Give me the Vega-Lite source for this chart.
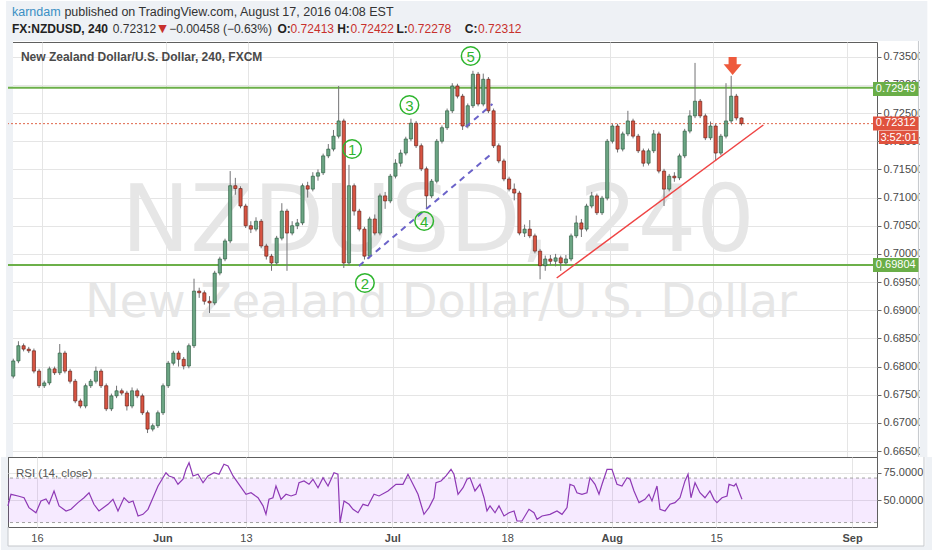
{
"$schema": "https://vega.github.io/schema/vega-lite/v6.json",
"background": "white",
"padding": 0,
"spacing": 0,
"bounds": "flush",
"config": {
 "view": {"stroke": "#5f5f5f", "strokeWidth": 1},
 "axis": {"labelFont": "Liberation Sans", "labelFontSize": 11, "labelColor": "#4a4a4a", "gridColor": "#e5e5e5", "gridWidth": 1, "tickColor": "#666666", "labelFlush": false, "labelOverlap": false, "labelBound": false, "domain": false},
 "text": {"font": "Liberation Sans"}
},
"datasets": {
 "candles": [
{"t":-2.75,"o":0.6783,"h":0.6814,"l":0.6779,"c":0.6810},
{"t":-2.25,"o":0.6810,"h":0.6845,"l":0.6806,"c":0.6837},
{"t":-1.75,"o":0.6837,"h":0.6841,"l":0.6827,"c":0.6831},
{"t":-1.25,"o":0.6831,"h":0.6835,"l":0.6824,"c":0.6828},
{"t":-0.75,"o":0.6828,"h":0.6832,"l":0.6788,"c":0.6792},
{"t":-0.25,"o":0.6792,"h":0.6796,"l":0.6762,"c":0.6766},
{"t":0.25,"o":0.6766,"h":0.6775,"l":0.6762,"c":0.6771},
{"t":0.75,"o":0.6771,"h":0.6800,"l":0.6767,"c":0.6796},
{"t":1.25,"o":0.6796,"h":0.6800,"l":0.6785,"c":0.6789},
{"t":1.75,"o":0.6789,"h":0.6840,"l":0.6785,"c":0.6824},
{"t":2.25,"o":0.6824,"h":0.6828,"l":0.6788,"c":0.6792},
{"t":2.75,"o":0.6792,"h":0.6796,"l":0.6770,"c":0.6774},
{"t":3.25,"o":0.6774,"h":0.6778,"l":0.6735,"c":0.6739},
{"t":3.75,"o":0.6739,"h":0.6743,"l":0.6726,"c":0.6730},
{"t":4.25,"o":0.6730,"h":0.6770,"l":0.6726,"c":0.6766},
{"t":4.75,"o":0.6766,"h":0.6778,"l":0.6762,"c":0.6774},
{"t":5.25,"o":0.6774,"h":0.6800,"l":0.6770,"c":0.6792},
{"t":5.75,"o":0.6792,"h":0.6796,"l":0.6762,"c":0.6766},
{"t":6.25,"o":0.6766,"h":0.6770,"l":0.6721,"c":0.6725},
{"t":6.75,"o":0.6725,"h":0.6752,"l":0.6721,"c":0.6748},
{"t":7.25,"o":0.6748,"h":0.6766,"l":0.6744,"c":0.6757},
{"t":7.75,"o":0.6757,"h":0.6761,"l":0.6749,"c":0.6753},
{"t":8.25,"o":0.6753,"h":0.6757,"l":0.6722,"c":0.6730},
{"t":8.75,"o":0.6730,"h":0.6763,"l":0.6726,"c":0.6757},
{"t":9.25,"o":0.6757,"h":0.6761,"l":0.6744,"c":0.6748},
{"t":9.75,"o":0.6748,"h":0.6752,"l":0.6714,"c":0.6718},
{"t":10.25,"o":0.6718,"h":0.6722,"l":0.6682,"c":0.6689},
{"t":10.75,"o":0.6689,"h":0.6699,"l":0.6685,"c":0.6695},
{"t":11.25,"o":0.6695,"h":0.6722,"l":0.6691,"c":0.6718},
{"t":11.75,"o":0.6718,"h":0.6770,"l":0.6714,"c":0.6766},
{"t":12.25,"o":0.6766,"h":0.6810,"l":0.6762,"c":0.6806},
{"t":12.75,"o":0.6806,"h":0.6828,"l":0.6802,"c":0.6824},
{"t":13.25,"o":0.6824,"h":0.6828,"l":0.6800,"c":0.6813},
{"t":13.75,"o":0.6813,"h":0.6817,"l":0.6795,"c":0.6801},
{"t":14.25,"o":0.6801,"h":0.6841,"l":0.6797,"c":0.6837},
{"t":14.75,"o":0.6837,"h":0.6956,"l":0.6833,"c":0.6934},
{"t":15.25,"o":0.6934,"h":0.6940,"l":0.6922,"c":0.6931},
{"t":15.75,"o":0.6931,"h":0.6935,"l":0.6910,"c":0.6916},
{"t":16.25,"o":0.6916,"h":0.6925,"l":0.6895,"c":0.6913},
{"t":16.75,"o":0.6913,"h":0.6970,"l":0.6909,"c":0.6966},
{"t":17.25,"o":0.6966,"h":0.6995,"l":0.6962,"c":0.6991},
{"t":17.75,"o":0.6991,"h":0.7027,"l":0.6987,"c":0.7023},
{"t":18.25,"o":0.7023,"h":0.7147,"l":0.7019,"c":0.7121},
{"t":18.75,"o":0.7121,"h":0.7135,"l":0.7105,"c":0.7116},
{"t":19.25,"o":0.7116,"h":0.7120,"l":0.7081,"c":0.7085},
{"t":19.75,"o":0.7085,"h":0.7089,"l":0.7046,"c":0.7050},
{"t":20.25,"o":0.7050,"h":0.7058,"l":0.7037,"c":0.7044},
{"t":20.75,"o":0.7044,"h":0.7065,"l":0.7040,"c":0.7058},
{"t":21.25,"o":0.7058,"h":0.7062,"l":0.7010,"c":0.7014},
{"t":21.75,"o":0.7014,"h":0.7018,"l":0.6990,"c":0.6996},
{"t":22.25,"o":0.6996,"h":0.7000,"l":0.6970,"c":0.6984},
{"t":22.75,"o":0.6984,"h":0.7032,"l":0.6980,"c":0.7028},
{"t":23.25,"o":0.7028,"h":0.7090,"l":0.7024,"c":0.7076},
{"t":23.75,"o":0.7076,"h":0.7080,"l":0.6970,"c":0.7037},
{"t":24.25,"o":0.7037,"h":0.7058,"l":0.7033,"c":0.7050},
{"t":24.75,"o":0.7050,"h":0.7062,"l":0.7044,"c":0.7055},
{"t":25.25,"o":0.7055,"h":0.7125,"l":0.7051,"c":0.7121},
{"t":25.75,"o":0.7121,"h":0.7128,"l":0.7100,"c":0.7115},
{"t":26.25,"o":0.7115,"h":0.7145,"l":0.7111,"c":0.7138},
{"t":26.75,"o":0.7138,"h":0.7150,"l":0.7130,"c":0.7144},
{"t":27.25,"o":0.7144,"h":0.7178,"l":0.7140,"c":0.7174},
{"t":27.75,"o":0.7174,"h":0.7195,"l":0.7170,"c":0.7186},
{"t":28.25,"o":0.7186,"h":0.7220,"l":0.7182,"c":0.7209},
{"t":28.75,"o":0.7209,"h":0.7298,"l":0.7205,"c":0.7236},
{"t":29.25,"o":0.7236,"h":0.7240,"l":0.6975,"c":0.6984},
{"t":29.75,"o":0.6984,"h":0.7158,"l":0.6980,"c":0.7121},
{"t":30.25,"o":0.7121,"h":0.7125,"l":0.7068,"c":0.7076},
{"t":30.75,"o":0.7076,"h":0.7080,"l":0.7040,"c":0.7044},
{"t":31.25,"o":0.7044,"h":0.7048,"l":0.6990,"c":0.6996},
{"t":31.75,"o":0.6996,"h":0.7066,"l":0.6992,"c":0.7062},
{"t":32.25,"o":0.7062,"h":0.7070,"l":0.7033,"c":0.7037},
{"t":32.75,"o":0.7037,"h":0.7107,"l":0.7033,"c":0.7103},
{"t":33.25,"o":0.7103,"h":0.7110,"l":0.7080,"c":0.7094},
{"t":33.75,"o":0.7094,"h":0.7142,"l":0.7090,"c":0.7138},
{"t":34.25,"o":0.7138,"h":0.7168,"l":0.7134,"c":0.7161},
{"t":34.75,"o":0.7161,"h":0.7185,"l":0.7155,"c":0.7179},
{"t":35.25,"o":0.7179,"h":0.7208,"l":0.7175,"c":0.7204},
{"t":35.75,"o":0.7204,"h":0.7240,"l":0.7200,"c":0.7232},
{"t":36.25,"o":0.7232,"h":0.7236,"l":0.7188,"c":0.7192},
{"t":36.75,"o":0.7192,"h":0.7196,"l":0.7147,"c":0.7151},
{"t":37.25,"o":0.7151,"h":0.7155,"l":0.7080,"c":0.7103},
{"t":37.75,"o":0.7103,"h":0.7133,"l":0.7099,"c":0.7129},
{"t":38.25,"o":0.7129,"h":0.7204,"l":0.7125,"c":0.7200},
{"t":38.75,"o":0.7200,"h":0.7228,"l":0.7196,"c":0.7224},
{"t":39.25,"o":0.7224,"h":0.7258,"l":0.7220,"c":0.7254},
{"t":39.75,"o":0.7254,"h":0.7303,"l":0.7250,"c":0.7298},
{"t":40.25,"o":0.7298,"h":0.7302,"l":0.7276,"c":0.7280},
{"t":40.75,"o":0.7280,"h":0.7284,"l":0.7220,"c":0.7227},
{"t":41.25,"o":0.7227,"h":0.7267,"l":0.7223,"c":0.7263},
{"t":41.75,"o":0.7263,"h":0.7325,"l":0.7259,"c":0.7319},
{"t":42.25,"o":0.7319,"h":0.7323,"l":0.7262,"c":0.7266},
{"t":42.75,"o":0.7266,"h":0.7320,"l":0.7262,"c":0.7310},
{"t":43.25,"o":0.7310,"h":0.7314,"l":0.7250,"c":0.7254},
{"t":43.75,"o":0.7254,"h":0.7258,"l":0.7188,"c":0.7192},
{"t":44.25,"o":0.7192,"h":0.7196,"l":0.7161,"c":0.7165},
{"t":44.75,"o":0.7165,"h":0.7169,"l":0.7129,"c":0.7133},
{"t":45.25,"o":0.7133,"h":0.7137,"l":0.7111,"c":0.7115},
{"t":45.75,"o":0.7115,"h":0.7125,"l":0.7095,"c":0.7108},
{"t":46.25,"o":0.7108,"h":0.7112,"l":0.7033,"c":0.7037},
{"t":46.75,"o":0.7037,"h":0.7052,"l":0.7030,"c":0.7044},
{"t":47.25,"o":0.7044,"h":0.7060,"l":0.7028,"c":0.7032},
{"t":47.75,"o":0.7032,"h":0.7036,"l":0.7001,"c":0.7005},
{"t":48.25,"o":0.7005,"h":0.7009,"l":0.6955,"c":0.6979},
{"t":48.75,"o":0.6979,"h":0.6997,"l":0.6970,"c":0.6991},
{"t":49.25,"o":0.6991,"h":0.6998,"l":0.6980,"c":0.6987},
{"t":49.75,"o":0.6987,"h":0.7000,"l":0.6978,"c":0.6993},
{"t":50.25,"o":0.6993,"h":0.6997,"l":0.6970,"c":0.6984},
{"t":50.75,"o":0.6984,"h":0.6998,"l":0.6980,"c":0.6991},
{"t":51.25,"o":0.6991,"h":0.7036,"l":0.6987,"c":0.7032},
{"t":51.75,"o":0.7032,"h":0.7068,"l":0.7028,"c":0.7055},
{"t":52.25,"o":0.7055,"h":0.7062,"l":0.7030,"c":0.7044},
{"t":52.75,"o":0.7044,"h":0.7089,"l":0.7040,"c":0.7085},
{"t":53.25,"o":0.7085,"h":0.7110,"l":0.7081,"c":0.7103},
{"t":53.75,"o":0.7103,"h":0.7107,"l":0.7069,"c":0.7073},
{"t":54.25,"o":0.7073,"h":0.7103,"l":0.7069,"c":0.7099},
{"t":54.75,"o":0.7099,"h":0.7204,"l":0.7095,"c":0.7200},
{"t":55.25,"o":0.7200,"h":0.7231,"l":0.7196,"c":0.7227},
{"t":55.75,"o":0.7227,"h":0.7231,"l":0.7180,"c":0.7186},
{"t":56.25,"o":0.7186,"h":0.7217,"l":0.7182,"c":0.7213},
{"t":56.75,"o":0.7213,"h":0.7254,"l":0.7209,"c":0.7236},
{"t":57.25,"o":0.7236,"h":0.7240,"l":0.7205,"c":0.7209},
{"t":57.75,"o":0.7209,"h":0.7213,"l":0.7179,"c":0.7183},
{"t":58.25,"o":0.7183,"h":0.7187,"l":0.7155,"c":0.7161},
{"t":58.75,"o":0.7161,"h":0.7187,"l":0.7157,"c":0.7183},
{"t":59.25,"o":0.7183,"h":0.7220,"l":0.7179,"c":0.7213},
{"t":59.75,"o":0.7213,"h":0.7217,"l":0.7143,"c":0.7147},
{"t":60.25,"o":0.7147,"h":0.7151,"l":0.7085,"c":0.7115},
{"t":60.75,"o":0.7115,"h":0.7142,"l":0.7111,"c":0.7138},
{"t":61.25,"o":0.7138,"h":0.7145,"l":0.7128,"c":0.7135},
{"t":61.75,"o":0.7135,"h":0.7178,"l":0.7131,"c":0.7174},
{"t":62.25,"o":0.7174,"h":0.7222,"l":0.7170,"c":0.7218},
{"t":62.75,"o":0.7218,"h":0.7255,"l":0.7214,"c":0.7245},
{"t":63.25,"o":0.7245,"h":0.7339,"l":0.7241,"c":0.7271},
{"t":63.75,"o":0.7271,"h":0.7275,"l":0.7241,"c":0.7245},
{"t":64.25,"o":0.7245,"h":0.7249,"l":0.7202,"c":0.7206},
{"t":64.75,"o":0.7206,"h":0.7235,"l":0.7202,"c":0.7227},
{"t":65.25,"o":0.7227,"h":0.7231,"l":0.7165,"c":0.7179},
{"t":65.75,"o":0.7179,"h":0.7213,"l":0.7175,"c":0.7209},
{"t":66.25,"o":0.7209,"h":0.7303,"l":0.7205,"c":0.7236},
{"t":66.75,"o":0.7236,"h":0.7316,"l":0.7232,"c":0.7280},
{"t":67.25,"o":0.7280,"h":0.7284,"l":0.7237,"c":0.72413},
{"t":67.75,"o":0.72413,"h":0.72422,"l":0.72278,"c":0.72312}
 ],
 "rsi": [
{"t":-2.78,"p":45},{"t":-2.49,"p":55.4},{"t":-1.82,"p":53.9},{"t":-1.24,"p":52.3},{"t":-0.77,"p":43.4},{"t":-0.10,"p":38.8},{"t":0.38,"p":49.4},{"t":0.86,"p":51.2},{"t":1.15,"p":46.7},{"t":1.63,"p":58.4},{"t":2.11,"p":45},{"t":2.78,"p":40.4},{"t":3.25,"p":42},{"t":3.92,"p":47.9},{"t":4.50,"p":52.3},{"t":4.98,"p":56.8},{"t":5.45,"p":46.4},{"t":5.93,"p":40.4},{"t":6.79,"p":46.4},{"t":7.27,"p":50.9},{"t":7.75,"p":40.4},{"t":8.33,"p":52.3},{"t":8.80,"p":47.9},{"t":9.19,"p":49.4},{"t":9.67,"p":35.9},{"t":10.14,"p":37.4},{"t":10.62,"p":41.9},{"t":11.10,"p":52.3},{"t":11.58,"p":62.9},{"t":11.87,"p":67.4},{"t":12.34,"p":74.8},{"t":12.63,"p":71.9},{"t":13.11,"p":70.3},{"t":13.49,"p":64.4},{"t":13.97,"p":68.9},{"t":14.26,"p":77.9},{"t":14.55,"p":83.8},{"t":14.93,"p":71.9},{"t":15.41,"p":73.4},{"t":15.89,"p":65.8},{"t":16.36,"p":71.9},{"t":16.94,"p":74.8},{"t":17.42,"p":73.4},{"t":17.89,"p":82.4},{"t":18.28,"p":80.8},{"t":18.76,"p":71.9},{"t":19.33,"p":64.4},{"t":20.00,"p":55.4},{"t":20.48,"p":56.8},{"t":21.15,"p":52.3},{"t":21.63,"p":45},{"t":21.91,"p":37.4},{"t":22.20,"p":50.9},{"t":22.58,"p":52.3},{"t":22.87,"p":62.9},{"t":23.35,"p":50.9},{"t":23.83,"p":55.4},{"t":24.31,"p":53.9},{"t":24.78,"p":55.4},{"t":25.07,"p":65.8},{"t":25.55,"p":67.4},{"t":26.03,"p":64.4},{"t":26.41,"p":68.9},{"t":26.89,"p":61.3},{"t":27.37,"p":70.3},{"t":27.85,"p":62.9},{"t":28.42,"p":74.8},{"t":28.80,"p":73.4},{"t":29.00,"p":29.9},{"t":29.38,"p":49.4},{"t":29.86,"p":46.4},{"t":30.24,"p":41.9},{"t":30.72,"p":38.8},{"t":31.20,"p":46.4},{"t":31.67,"p":45},{"t":32.25,"p":55.4},{"t":32.73,"p":53.9},{"t":33.59,"p":58.4},{"t":34.35,"p":64.4},{"t":35.02,"p":64.4},{"t":35.50,"p":73.4},{"t":35.98,"p":64.4},{"t":36.46,"p":55.4},{"t":37.03,"p":37.4},{"t":37.51,"p":43.4},{"t":37.99,"p":52.3},{"t":38.18,"p":65.8},{"t":38.66,"p":67.4},{"t":39.14,"p":71.9},{"t":39.62,"p":77.9},{"t":39.90,"p":73.4},{"t":40.29,"p":55.4},{"t":40.77,"p":61.3},{"t":41.15,"p":68.9},{"t":41.44,"p":70.3},{"t":41.91,"p":58.4},{"t":42.39,"p":64.4},{"t":42.78,"p":52.3},{"t":43.06,"p":40.4},{"t":43.35,"p":45},{"t":43.83,"p":38.8},{"t":44.21,"p":45},{"t":44.69,"p":35.9},{"t":45.17,"p":38.8},{"t":45.65,"p":40.4},{"t":45.93,"p":31.4},{"t":46.41,"p":31.4},{"t":47.08,"p":41.9},{"t":47.56,"p":38.8},{"t":47.85,"p":32.9},{"t":48.33,"p":35.9},{"t":49.09,"p":37.4},{"t":49.76,"p":40.4},{"t":50.24,"p":37.4},{"t":50.72,"p":43.4},{"t":51.00,"p":64.4},{"t":51.39,"p":62.9},{"t":51.67,"p":56.8},{"t":52.15,"p":55.4},{"t":52.63,"p":56.8},{"t":52.92,"p":70.3},{"t":53.40,"p":64.4},{"t":53.78,"p":55.4},{"t":54.07,"p":64.4},{"t":54.55,"p":77.9},{"t":55.02,"p":77.9},{"t":55.50,"p":64.4},{"t":55.98,"p":62.9},{"t":56.46,"p":70.3},{"t":56.75,"p":68.9},{"t":57.13,"p":58.4},{"t":57.61,"p":47.9},{"t":58.18,"p":50.9},{"t":58.56,"p":55.4},{"t":58.85,"p":49.4},{"t":59.33,"p":62.9},{"t":59.62,"p":41.9},{"t":60.10,"p":40.4},{"t":60.57,"p":46.4},{"t":61.05,"p":47.9},{"t":61.53,"p":52.3},{"t":62.01,"p":67.4},{"t":62.30,"p":73.4},{"t":62.58,"p":52.3},{"t":62.97,"p":65.8},{"t":63.44,"p":56.8},{"t":63.92,"p":52.3},{"t":64.40,"p":58.4},{"t":64.78,"p":50.9},{"t":65.07,"p":47.9},{"t":65.55,"p":52.3},{"t":66.03,"p":53.9},{"t":66.22,"p":64.4},{"t":66.70,"p":62.9},{"t":66.89,"p":65},{"t":67.27,"p":55.4},{"t":67.46,"p":50.9}
 ]
},
"vconcat": [
{
 "width": 869,
 "height": 415,
 "layer": [
  {
   "data": {"values": [{"t":-3.445,"t2":85.742,"p":0.74489,"p2":0.73779},{"t":-3.445,"t2":-2.775,"p":0.73779,"p2":0.66395},{"t":85.0,"t2":85.742,"p":0.73779,"p2":0.66395}]},
   "mark": {"type": "rect", "color": "#eef1f5"},
   "encoding": {
    "x": {"field": "t", "type": "quantitative", "scale": {"domain": [-2.775, 80.383], "nice": false, "zero": false}, "axis": {"orient": "top", "values": [0,12,20,34,45,55,65,78], "tickCount": 40, "labels": false, "ticks": false, "domain": false, "grid": true, "title": null}},
    "x2": {"field": "t2"},
    "y": {"field": "p", "type": "quantitative", "scale": {"domain": [0.66395, 0.737613], "nice": false, "zero": false}, "axis": {"orient": "right", "values": [0.665,0.67,0.675,0.68,0.685,0.69,0.695,0.7,0.705,0.71,0.715,0.72,0.725,0.73,0.735], "tickCount": 40, "format": ".5f", "labelOverlap": false, "labelBound": false, "labelFlush": false, "labelFont": "Liberation Sans", "labelFontSize": 11, "grid": true, "ticks": true, "tickSize": 4, "labelPadding": 2, "title": null}},
    "y2": {"field": "p2"}
   }
  },
  {
   "data": {"values": [{"t":84.88,"t2":84.88,"p":0.73779,"p2":0.66395}]},
   "mark": {"type": "rule", "color": "#c5c8cc", "strokeWidth": 1},
   "encoding": {
    "x": {"field": "t", "type": "quantitative", "scale": {"domain": [-2.775, 80.383], "nice": false, "zero": false}},
    "x2": {"field": "t2"},
    "y": {"field": "p", "type": "quantitative", "scale": {"domain": [0.66395, 0.737613], "nice": false, "zero": false}},
    "y2": {"field": "p2"}
   }
  },
  {
   "data": {"values": [{"t":38.37,"p":0.70052,"label":"NZDUSD, 240"}]},
   "mark": {"type": "text", "font": "DejaVu Sans", "fontSize": 92, "color": "#e6e6e6", "align": "center", "baseline": "alphabetic"},
   "encoding": {
    "x": {"field": "t", "type": "quantitative", "scale": {"domain": [-2.775, 80.383], "nice": false, "zero": false}},
    "y": {"field": "p", "type": "quantitative", "scale": {"domain": [0.66395, 0.737613], "nice": false, "zero": false}},
    "text": {"field": "label"}
   }
  },
  {
   "data": {"values": [{"t":38.66,"p":0.6888,"label":"New Zealand Dollar/U.S. Dollar"}]},
   "mark": {"type": "text", "font": "DejaVu Sans", "fontSize": 46, "color": "#e6e6e6", "align": "center", "baseline": "alphabetic"},
   "encoding": {
    "x": {"field": "t", "type": "quantitative", "scale": {"domain": [-2.775, 80.383], "nice": false, "zero": false}},
    "y": {"field": "p", "type": "quantitative", "scale": {"domain": [0.66395, 0.737613], "nice": false, "zero": false}},
    "text": {"field": "label"}
   }
  },
  {
   "data": {"values": [{"t":-2.01,"p":0.73495,"label":"New Zealand Dollar/U.S. Dollar, 240, FXCM"}]},
   "mark": {"type": "text", "font": "Liberation Sans", "fontSize": 12, "fontWeight": "bold", "color": "#4a4a4a", "align": "left", "baseline": "middle"},
   "encoding": {
    "x": {"field": "t", "type": "quantitative", "scale": {"domain": [-2.775, 80.383], "nice": false, "zero": false}},
    "y": {"field": "p", "type": "quantitative", "scale": {"domain": [0.66395, 0.737613], "nice": false, "zero": false}},
    "text": {"field": "label"}
   }
  },
  {
   "data": {"values": [{"p":0.72949},{"p":0.69804}]},
   "mark": {"type": "rule", "color": "#6cb04a", "strokeWidth": 2},
   "encoding": {
    "y": {"field": "p", "type": "quantitative", "scale": {"domain": [0.66395, 0.737613], "nice": false, "zero": false}}
   }
  },
  {
   "data": {"values": [{"p":0.72312}]},
   "mark": {"type": "rule", "color": "#e0664a", "strokeWidth": 1, "strokeDash": [2, 2]},
   "encoding": {
    "y": {"field": "p", "type": "quantitative", "scale": {"domain": [0.66395, 0.737613], "nice": false, "zero": false}}
   }
  },
  {
   "data": {"name": "candles"},
   "mark": {"type": "rule", "color": "#737375", "strokeWidth": 1},
   "encoding": {
    "x": {"field": "t", "type": "quantitative", "scale": {"domain": [-2.775, 80.383], "nice": false, "zero": false}},
    "y": {"field": "l", "type": "quantitative", "scale": {"domain": [0.66395, 0.737613], "nice": false, "zero": false}},
    "y2": {"field": "h"}
   }
  },
  {
   "data": {"name": "candles"},
   "mark": {"type": "bar", "orient": "vertical", "size": 3.2, "strokeWidth": 0.6},
   "encoding": {
    "x": {"field": "t", "type": "quantitative", "scale": {"domain": [-2.775, 80.383], "nice": false, "zero": false}},
    "y": {"field": "o", "type": "quantitative", "scale": {"domain": [0.66395, 0.737613], "nice": false, "zero": false}},
    "y2": {"field": "c"},
    "fill": {"condition": {"test": "datum.c >= datum.o", "value": "#6ba583"}, "value": "#d75442"},
    "stroke": {"condition": {"test": "datum.c >= datum.o", "value": "#225437"}, "value": "#5b1a13"}
   }
  },
  {
   "data": {"values": [{"t":30.72,"t2":43.64,"p":0.69786,"p2":0.71791},{"t":41.05,"t2":43.64,"p":0.72252,"p2":0.72661}]},
   "mark": {"type": "rule", "color": "#6b63c9", "strokeWidth": 2, "strokeDash": [6, 5]},
   "encoding": {
    "x": {"field": "t", "type": "quantitative", "scale": {"domain": [-2.775, 80.383], "nice": false, "zero": false}},
    "x2": {"field": "t2"},
    "y": {"field": "p", "type": "quantitative", "scale": {"domain": [0.66395, 0.737613], "nice": false, "zero": false}},
    "y2": {"field": "p2"}
   }
  },
  {
   "data": {"values": [{"t":49.86,"t2":69.86,"p":0.69572,"p2":0.72288}]},
   "mark": {"type": "rule", "color": "#ef4444", "strokeWidth": 1.5},
   "encoding": {
    "x": {"field": "t", "type": "quantitative", "scale": {"domain": [-2.775, 80.383], "nice": false, "zero": false}},
    "x2": {"field": "t2"},
    "y": {"field": "p", "type": "quantitative", "scale": {"domain": [0.66395, 0.737613], "nice": false, "zero": false}},
    "y2": {"field": "p2"}
   }
  },
  {
   "data": {"values": [{"t":30.05,"p":0.71862,"label":"1"},{"t":31.29,"p":0.69484,"label":"2"},{"t":35.6,"p":0.72643,"label":"3"},{"t":37.03,"p":0.70584,"label":"4"},{"t":41.53,"p":0.73513,"label":"5"}]},
   "mark": {"type": "point", "shape": "circle", "filled": false, "stroke": "#2fb52f", "strokeWidth": 1.5, "size": 346, "opacity": 1},
   "encoding": {
    "x": {"field": "t", "type": "quantitative", "scale": {"domain": [-2.775, 80.383], "nice": false, "zero": false}},
    "y": {"field": "p", "type": "quantitative", "scale": {"domain": [0.66395, 0.737613], "nice": false, "zero": false}}
   }
  },
  {
   "data": {"values": [{"t":30.05,"p":0.71862,"label":"1"},{"t":31.29,"p":0.69484,"label":"2"},{"t":35.6,"p":0.72643,"label":"3"},{"t":37.03,"p":0.70584,"label":"4"},{"t":41.53,"p":0.73513,"label":"5"}]},
   "mark": {"type": "text", "font": "Liberation Sans", "fontSize": 15, "color": "#2fb52f", "align": "center", "baseline": "middle", "dy": 1},
   "encoding": {
    "x": {"field": "t", "type": "quantitative", "scale": {"domain": [-2.775, 80.383], "nice": false, "zero": false}},
    "y": {"field": "p", "type": "quantitative", "scale": {"domain": [0.66395, 0.737613], "nice": false, "zero": false}},
    "text": {"field": "label"}
   }
  },
  {
   "data": {"values": [{"t":66.89,"p":0.73335}]},
   "mark": {"type": "point", "shape": "M-0.45,-1L0.45,-1L0.45,-0.2L1,-0.2L0,1L-1,-0.2L-0.45,-0.2Z", "filled": true, "color": "#ee5a3c", "size": 324, "opacity": 1},
   "encoding": {
    "x": {"field": "t", "type": "quantitative", "scale": {"domain": [-2.775, 80.383], "nice": false, "zero": false}},
    "y": {"field": "p", "type": "quantitative", "scale": {"domain": [0.66395, 0.737613], "nice": false, "zero": false}}
   }
  },
  {
   "data": {"values": [{"t":80.48,"t2":84.88,"p":0.73051,"p2":0.72803},{"t":80.48,"t2":84.88,"p":0.69927,"p2":0.69679}]},
   "mark": {"type": "rect", "color": "#6aae48"},
   "encoding": {
    "x": {"field": "t", "type": "quantitative", "scale": {"domain": [-2.775, 80.383], "nice": false, "zero": false}},
    "x2": {"field": "t2"},
    "y": {"field": "p", "type": "quantitative", "scale": {"domain": [0.66395, 0.737613], "nice": false, "zero": false}},
    "y2": {"field": "p2"}
   }
  },
  {
   "data": {"values": [{"t":80.48,"t2":84.88,"p":0.72439,"p2":0.7219},{"t":81.05,"t2":84.88,"p":0.72182,"p2":0.71951}]},
   "mark": {"type": "rect", "color": "#e0523e"},
   "encoding": {
    "x": {"field": "t", "type": "quantitative", "scale": {"domain": [-2.775, 80.383], "nice": false, "zero": false}},
    "x2": {"field": "t2"},
    "y": {"field": "p", "type": "quantitative", "scale": {"domain": [0.66395, 0.737613], "nice": false, "zero": false}},
    "y2": {"field": "p2"}
   }
  },
  {
   "data": {"values": [{"t":82.68,"p":0.72927,"label":"0.72949"},{"t":82.68,"p":0.69803,"label":"0.69804"},{"t":82.68,"p":0.72315,"label":"0.72312"},{"t":82.97,"p":0.72066,"label":"3:52:01"}]},
   "mark": {"type": "text", "font": "Liberation Sans", "fontSize": 11, "color": "white", "align": "center", "baseline": "middle"},
   "encoding": {
    "x": {"field": "t", "type": "quantitative", "scale": {"domain": [-2.775, 80.383], "nice": false, "zero": false}},
    "y": {"field": "p", "type": "quantitative", "scale": {"domain": [0.66395, 0.737613], "nice": false, "zero": false}},
    "text": {"field": "label"}
   }
  },
  {
   "data": {"values": [{"t":2.201,"p":0.74294,"label":"published on TradingView.com, August 17, 2016 04:08 EST"}]},
   "mark": {"type": "text", "font": "Liberation Sans", "fontSize": 12.5, "color": "#333333", "align": "left", "baseline": "middle"},
   "encoding": {
    "x": {"field": "t", "type": "quantitative", "scale": {"domain": [-2.775, 80.383], "nice": false, "zero": false}},
    "y": {"field": "p", "type": "quantitative", "scale": {"domain": [0.66395, 0.737613], "nice": false, "zero": false}},
    "text": {"field": "label"}
   }
  },
  {
   "data": {"values": [{"t":6.89,"p":0.73992,"label":"0.72312"},{"t":12.344,"p":0.73992,"label":"\u22120.00458 (\u22120.63%)"}]},
   "mark": {"type": "text", "font": "Liberation Sans", "fontSize": 12, "color": "#333333", "align": "left", "baseline": "middle"},
   "encoding": {
    "x": {"field": "t", "type": "quantitative", "scale": {"domain": [-2.775, 80.383], "nice": false, "zero": false}},
    "y": {"field": "p", "type": "quantitative", "scale": {"domain": [0.66395, 0.737613], "nice": false, "zero": false}},
    "text": {"field": "label"}
   }
  },
  {
   "data": {"values": [{"t":-2.871,"p":0.74294,"label":"karndam"}]},
   "mark": {"type": "text", "font": "Liberation Sans", "fontSize": 12.5, "color": "#3a8fc4", "align": "left", "baseline": "middle"},
   "encoding": {
    "x": {"field": "t", "type": "quantitative", "scale": {"domain": [-2.775, 80.383], "nice": false, "zero": false}},
    "y": {"field": "p", "type": "quantitative", "scale": {"domain": [0.66395, 0.737613], "nice": false, "zero": false}},
    "text": {"field": "label"}
   }
  },
  {
   "data": {"values": [{"t":-2.871,"p":0.73992,"label":"FX:NZDUSD, 240"},{"t":22.82,"p":0.73992,"label":"O:"},{"t":28.61,"p":0.73992,"label":"H:"},{"t":34.35,"p":0.73992,"label":"L:"},{"t":40.96,"p":0.73992,"label":"C:"}]},
   "mark": {"type": "text", "font": "Liberation Sans", "fontSize": 12, "fontWeight": "bold", "color": "#222222", "align": "left", "baseline": "middle"},
   "encoding": {
    "x": {"field": "t", "type": "quantitative", "scale": {"domain": [-2.775, 80.383], "nice": false, "zero": false}},
    "y": {"field": "p", "type": "quantitative", "scale": {"domain": [0.66395, 0.737613], "nice": false, "zero": false}},
    "text": {"field": "label"}
   }
  },
  {
   "data": {"values": [{"t":24.1,"p":0.73992,"label":"0.72413"},{"t":29.9,"p":0.73992,"label":"0.72422"},{"t":35.45,"p":0.73992,"label":"0.72278"},{"t":42.25,"p":0.73992,"label":"0.72312"}]},
   "mark": {"type": "text", "font": "Liberation Sans", "fontSize": 12, "color": "#c8302c", "align": "left", "baseline": "middle"},
   "encoding": {
    "x": {"field": "t", "type": "quantitative", "scale": {"domain": [-2.775, 80.383], "nice": false, "zero": false}},
    "y": {"field": "p", "type": "quantitative", "scale": {"domain": [0.66395, 0.737613], "nice": false, "zero": false}},
    "text": {"field": "label"}
   }
  },
  {
   "data": {"values": [{"t":11.292,"p":0.73992,"label":"\u25bc"}]},
   "mark": {"type": "text", "font": "DejaVu Sans", "fontSize": 11, "color": "#c8302c", "align": "left", "baseline": "middle"},
   "encoding": {
    "x": {"field": "t", "type": "quantitative", "scale": {"domain": [-2.775, 80.383], "nice": false, "zero": false}},
    "y": {"field": "p", "type": "quantitative", "scale": {"domain": [0.66395, 0.737613], "nice": false, "zero": false}},
    "text": {"field": "label"}
   }
  }
 ]
},
{
 "width": 869,
 "height": 70,
 "layer": [
  {
   "data": {"values": [{"t":-3.445,"t2":-2.775,"p":88.94,"p2":4.41},{"t":85.0,"t2":85.742,"p":88.94,"p2":4.41},{"t":-3.445,"t2":85.742,"p":8.9,"p2":4.41}]},
   "mark": {"type": "rect", "color": "#eef1f5"},
   "encoding": {
    "x": {"field": "t", "type": "quantitative", "scale": {"domain": [-2.775, 80.383], "nice": false, "zero": false}, "axis": {"orient": "bottom", "values": [0,12,20,34,45,55,65,78], "tickCount": 40, "labelExpr": "datum.value == 0 ? '16' : datum.value == 12 ? 'Jun' : datum.value == 20 ? '13' : datum.value == 34 ? 'Jul' : datum.value == 45 ? '18' : datum.value == 55 ? 'Aug' : datum.value == 65 ? '15' : 'Sep'", "labelFontWeight": {"condition": {"test": "datum.value == 12 || datum.value == 34 || datum.value == 55 || datum.value == 78", "value": "bold"}, "value": "normal"}, "labelOverlap": false, "labelFlush": false, "ticks": false, "labelPadding": 5, "grid": true, "title": null}},
    "x2": {"field": "t2"},
    "y": {"field": "p", "type": "quantitative", "scale": {"domain": [25.99, 88.94], "nice": false, "zero": false}, "axis": {"orient": "right", "values": [50, 75], "tickCount": 10, "format": ".4f", "labelOverlap": false, "labelFlush": false, "labelBound": false, "grid": true, "ticks": true, "tickSize": 4, "labelPadding": 2, "title": null}},
    "y2": {"field": "p2"}
   }
  },
  {
   "data": {"values": [{"t":84.88,"t2":84.88,"p":88.94,"p2":8.9},{"t":-2.775,"t2":84.88,"p":8.9,"p2":8.9},{"t":-2.775,"t2":-2.775,"p":25.99,"p2":8.9}]},
   "mark": {"type": "rule", "color": "#c5c8cc", "strokeWidth": 1},
   "encoding": {
    "x": {"field": "t", "type": "quantitative", "scale": {"domain": [-2.775, 80.383], "nice": false, "zero": false}},
    "x2": {"field": "t2"},
    "y": {"field": "p", "type": "quantitative", "scale": {"domain": [25.99, 88.94], "nice": false, "zero": false}},
    "y2": {"field": "p2"}
   }
  },
  {
   "data": {"values": [{"t":-2.775,"t2":80.383,"p":30,"p2":70}]},
   "mark": {"type": "rect", "color": "#9915ff", "opacity": 0.09},
   "encoding": {
    "x": {"field": "t", "type": "quantitative", "scale": {"domain": [-2.775, 80.383], "nice": false, "zero": false}},
    "x2": {"field": "t2"},
    "y": {"field": "p", "type": "quantitative", "scale": {"domain": [25.99, 88.94], "nice": false, "zero": false}},
    "y2": {"field": "p2"}
   }
  },
  {
   "data": {"values": [{"p":30},{"p":70}]},
   "mark": {"type": "rule", "color": "#a3a3a3", "strokeWidth": 1, "strokeDash": [3, 3]},
   "encoding": {
    "y": {"field": "p", "type": "quantitative", "scale": {"domain": [25.99, 88.94], "nice": false, "zero": false}}
   }
  },
  {
   "data": {"name": "rsi"},
   "mark": {"type": "line", "color": "#8e39b5", "strokeWidth": 1.2},
   "encoding": {
    "x": {"field": "t", "type": "quantitative", "scale": {"domain": [-2.775, 80.383], "nice": false, "zero": false}},
    "y": {"field": "p", "type": "quantitative", "scale": {"domain": [25.99, 88.94], "nice": false, "zero": false}}
   }
  },
  {
   "data": {"values": [{"t":-2.01,"p":74.1,"label":"RSI (14, close)"}]},
   "mark": {"type": "text", "font": "Liberation Sans", "fontSize": 11.5, "color": "#555555", "align": "left", "baseline": "middle"},
   "encoding": {
    "x": {"field": "t", "type": "quantitative", "scale": {"domain": [-2.775, 80.383], "nice": false, "zero": false}},
    "y": {"field": "p", "type": "quantitative", "scale": {"domain": [25.99, 88.94], "nice": false, "zero": false}},
    "text": {"field": "label"}
   }
  }
 ]
}
]
}
